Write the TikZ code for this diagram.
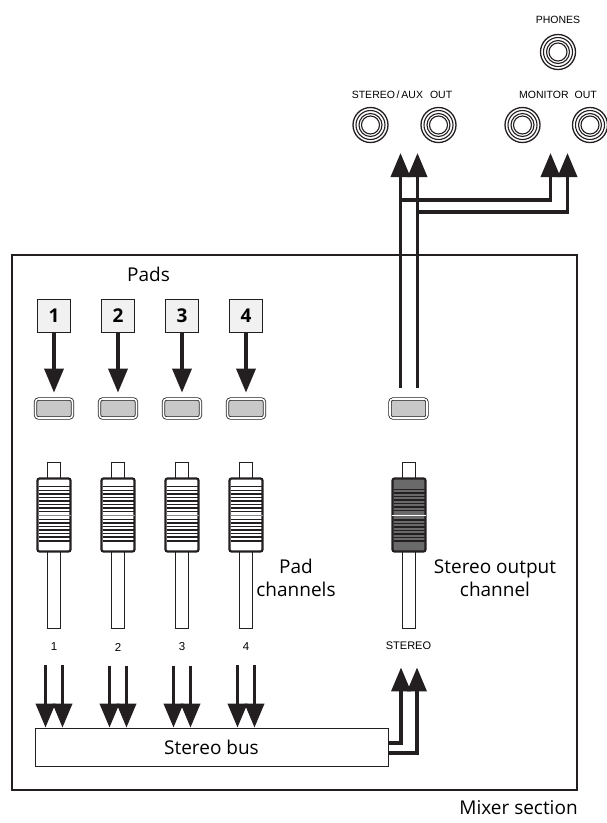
\documentclass[tikz,border=0pt]{standalone}
\usepackage{fontspec}
\setmainfont{Open Sans}
\newfontfamily\panelfont{Liberation Sans}
\usepackage{tikz}
\usetikzlibrary{arrows.meta,positioning}
\definecolor{inkdark}{HTML}{231F20}
\definecolor{keyfill}{HTML}{F1F1F1}
\definecolor{btnfill}{HTML}{C8C8C8}
\definecolor{knobdark}{HTML}{6A6A6A}
\definecolor{centerline}{HTML}{8C8C8C}
\tikzset{
  padkey/.style={draw=inkdark,line width=0.8pt,fill=keyfill,minimum size=33pt,inner sep=0pt,font=\fontsize{19}{22}\selectfont\bfseries},
  selbtn/.style={draw=inkdark,line width=0.8pt,double=white,double distance=1.6pt,fill=btnfill,rounded corners=3pt,minimum width=37pt,minimum height=19pt,inner sep=0pt},
  jack/.style={circle,draw=inkdark,line width=1.3pt,minimum size=35pt,inner sep=0pt},
  stem/.style={draw=inkdark,line width=0.7pt,fill=white,minimum width=13pt,minimum height=166pt,inner sep=0pt},
  knob/.style={draw=inkdark,line width=2.2pt,fill=white,rounded corners=2pt,minimum width=33pt,minimum height=73pt,inner sep=0pt},
  darkknob/.style={knob,fill=knobdark},
  stripe/.style={draw=inkdark,line width=1.1pt},
  paneltext/.style={font=\panelfont\fontsize{10.5}{12}\selectfont},
  chnum/.style={font=\panelfont\fontsize{11.5}{13}\selectfont},
  caption/.style={font=\fontsize{19}{23}\selectfont,align=center},
  busbox/.style={draw=inkdark,line width=0.8pt,minimum width=353pt,minimum height=38pt,inner sep=0pt,font=\fontsize{19}{23}\selectfont},
  flow/.style={-{Triangle[length=24pt,width=19pt]},line width=3.6pt,draw=inkdark}
}
\begin{document}
\begin{tikzpicture}[x=1pt,y=-1pt]
  \useasboundingbox (0,0) rectangle (607,823);

  % mixer frame
  \node[draw=inkdark,line width=1.8pt,minimum width=565pt,minimum height=535pt,inner sep=0pt] (mixer) at (294.5,522.5) {};
  \node[caption,inner sep=0pt,below left=9pt and 0pt of mixer.south east] (mixcap) {Mixer section};
  \node[caption] (padslbl) at (148.5,274) {Pads};

  % stereo bus
  \node[busbox] (bus) at (211.5,747) {Stereo bus};

  % pad channels
  \foreach \i/\x in {1/54,2/118,3/182,4/246} {
    \node[padkey] (k\i) at (\x,315.5) {\i};
    \node[selbtn] (b\i) at (\x,408.5) {};
    \draw[flow,shorten >=6pt] (k\i) -- (b\i);
    \node[stem] (s\i) at (\x,545) {};
    \node[knob] (f\i) at (\x,515) {};
    \foreach \y in {490.5,494,497.5,501,504.5,508,511.5,519.5,523,526.5,530,533.5,537}
      \draw[stripe] (\x-15.5,\y) -- (\x+15.5,\y);
    \draw[stripe,line width=1.7pt] (\x-15.5,486.5) -- (\x+15.5,486.5);
    \draw[stripe,line width=1.7pt] (\x-15.5,541) -- (\x+15.5,541);
    \draw[stripe,draw=centerline] (\x-16.5,515.5) -- (\x+16.5,515.5);
    \node[chnum] (n\i) at (\x,647) {\i};
    \draw[flow,shorten <=11pt] ([xshift=-8.5pt]n\i.south) -- ([xshift=-8.5pt]n\i.south |- bus.north);
    \draw[flow,shorten <=11pt] ([xshift=8.5pt]n\i.south) -- ([xshift=8.5pt]n\i.south |- bus.north);
  }
  \node[caption] (padcap) at (296,578) {Pad\\channels};

  % stereo output channel
  \node[selbtn] (sb) at (408.5,408.5) {};
  \node[stem] (ss) at (409,545) {};
  \node[darkknob] (sf) at (409,515) {};
  \foreach \y in {489.5,493,496.5,500,503.5,507,510.5,520,523.5,527,530.5,534,537.5,541}
    \draw[stripe,line width=1.4pt] (393.5,\y) -- (424.5,\y);
  \draw[stripe,draw=white] (392,515.5) -- (426,515.5);
  \node[paneltext,font=\panelfont\fontsize{11}{12}\selectfont] (stl) at (408.5,646) {STEREO};
  \node[caption] (stcap) at (495,578) {Stereo output\\channel};

  \draw[flow,shorten >=14pt] ([yshift=4pt]bus.east) -| ([xshift=-7.5pt]stl.south);
  \draw[flow,shorten >=14pt] ([yshift=-6pt]bus.east) -| ([xshift=8.5pt]stl.south);

  % output jacks
  \node[paneltext] (phonelbl) at (558,20) {PHONES};
  \node[paneltext] (auxlbl) at (402,95) {STEREO\,/\,AUX\hspace{7pt}OUT};
  \node[paneltext] (monlbl) at (558,95) {MONITOR\hspace{6pt}OUT};
  \node[jack] (ph) at (558,52) {};
  \node[jack] (j1) at (370.5,125) {};
  \node[jack] (j2) at (438.5,125) {};
  \node[jack] (j3) at (522.5,125) {};
  \node[jack] (j4) at (590,125) {};
  \foreach \j in {ph,j1,j2,j3,j4}
    \foreach \r in {14.5,11.5,9}
      \draw[inkdark,line width=1.1pt] (\j) circle (\r);

  \coordinate (auxin) at (409,153);
  \coordinate (monin) at (559,153);
  \coordinate (tapL) at (400.5,200);
  \coordinate (tapR) at (417.5,212);
  \draw[flow] (tapL) -| ([xshift=-8.5pt]monin);
  \draw[flow] (tapR) -| ([xshift=8.5pt]monin);
  \draw[flow,shorten <=11pt] ([xshift=-8pt]sb.north) -- ([xshift=-8pt]sb.north |- auxin);
  \draw[flow,shorten <=11pt] ([xshift=9pt]sb.north) -- ([xshift=9pt]sb.north |- auxin);
\end{tikzpicture}
\end{document}
